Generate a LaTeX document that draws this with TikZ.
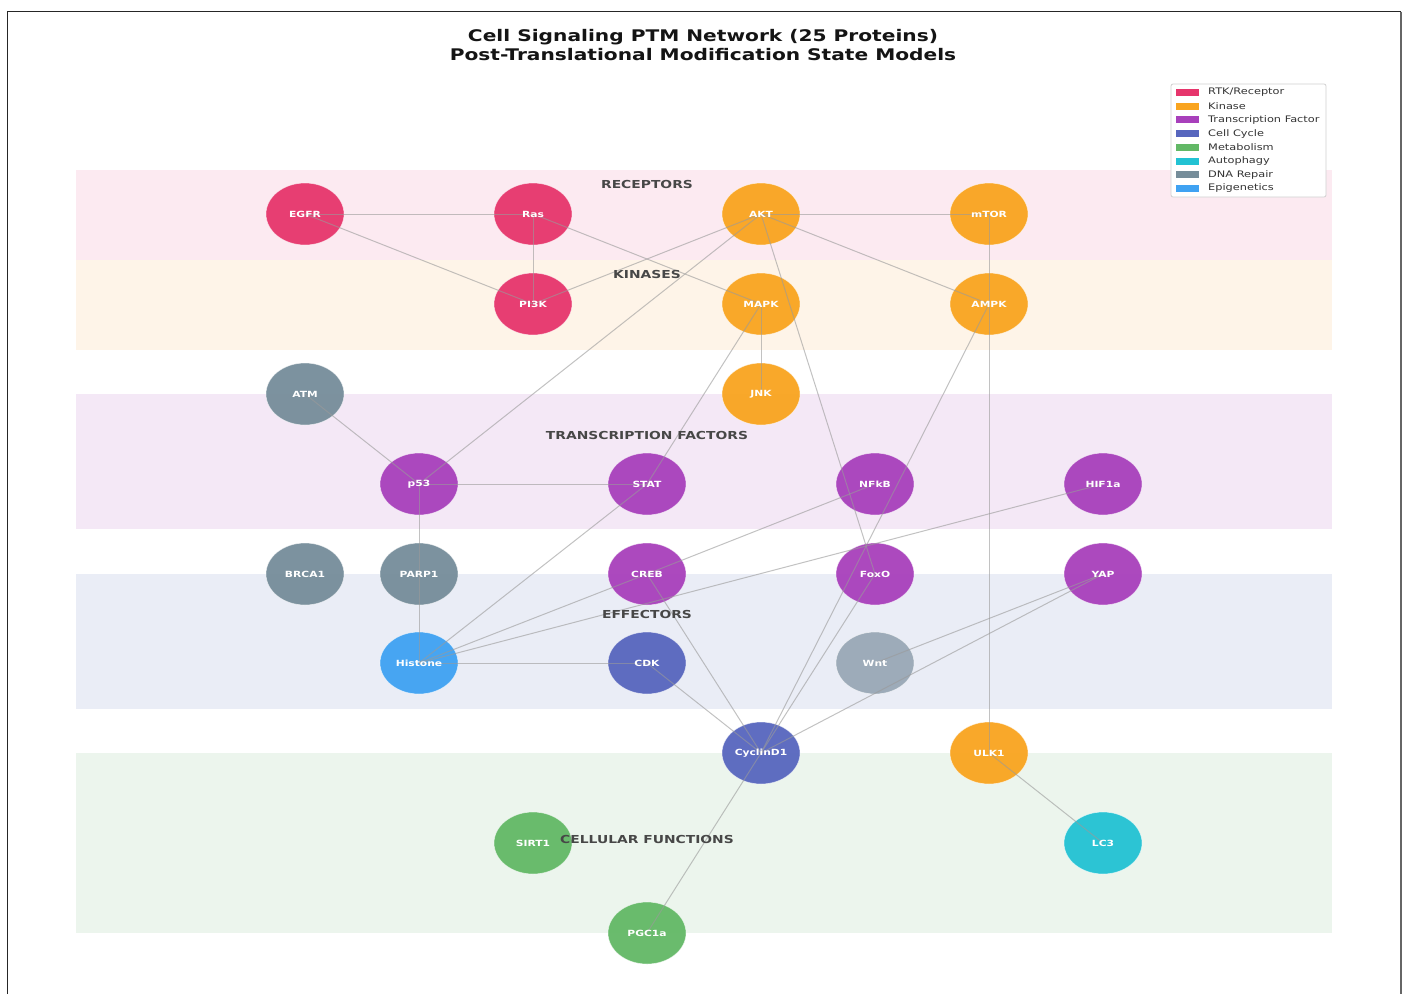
\documentclass[tikz,border=0pt]{standalone}
\usepackage{fontspec}
\setmainfont{DejaVu Sans}[FakeStretch=1.26]
\usetikzlibrary{shapes.geometric}
\definecolor{rtk}{HTML}{E6356C}
\definecolor{kin}{HTML}{F9A41F}
\definecolor{tf}{HTML}{A840BB}
\definecolor{cyc}{HTML}{5766BE}
\definecolor{met}{HTML}{62B866}
\definecolor{aut}{HTML}{22C2D3}
\definecolor{dna}{HTML}{768D9A}
\definecolor{epi}{HTML}{3FA2F2}
\definecolor{wntc}{HTML}{99A8B6}
\definecolor{bandA}{HTML}{FCEAF1}
\definecolor{bandB}{HTML}{FEF4E8}
\definecolor{bandC}{HTML}{F4E8F6}
\definecolor{bandD}{HTML}{EAEDF6}
\definecolor{bandE}{HTML}{ECF5ED}
\definecolor{edgec}{HTML}{9A9A9A}
\pgfdeclarelayer{bands}
\pgfsetlayers{bands,main}
\tikzset{
  prot/.style={ellipse, minimum width=78pt, minimum height=62pt, inner sep=0pt,
    fill=#1, fill opacity=0.95, text opacity=1, text=white, draw=white, draw opacity=0.6, line width=0.6pt,
    font=\fontsize{8.5}{10}\selectfont\bfseries},
  edge/.style={draw=edgec, draw opacity=0.6, line width=1pt},
  bandlab/.style={text=black!72, font=\fontsize{11}{13}\selectfont\bfseries, inner sep=0pt},
  legtext/.style={anchor=west, inner sep=0pt, font=\fontsize{9}{10}\selectfont, text=black!80},
}
\begin{document}
\begin{tikzpicture}[x=1pt,y=-1pt]
\useasboundingbox (0,0) rectangle (1404,994);
% bands
\begin{pgfonlayer}{bands}
\fill[white] (0,0) rectangle (1404,994);
\fill[bandA] (76,170) rectangle (1332,260);
\fill[bandB] (76,260) rectangle (1332,350);
\fill[bandC] (76,394) rectangle (1332,529);
\fill[bandD] (76,574) rectangle (1332,709);
\fill[bandE] (76,753) rectangle (1332,933);
\end{pgfonlayer}
% frame
\draw[black!85, line width=1.5pt] (7.5,994) -- (7.5,11.5) -- (1400.5,11.5);
\draw[black!60, line width=2pt] (1400.5,11.5) -- (1400.5,994);
% title
\node[font=\fontsize{16}{19}\selectfont\bfseries, text=black!92, align=center, inner sep=0pt] (title) at (703,45)
  {Cell Signaling PTM Network (25 Proteins)\\Post-Translational Modification State Models};
% nodes
\node[prot=rtk] (EGFR) at (305,214) {};
\node[prot=rtk] (Ras) at (533,214) {};
\node[prot=kin] (AKT) at (761,214) {};
\node[prot=kin] (mTOR) at (989,214) {};
\node[prot=rtk] (PI3K) at (533,304) {};
\node[prot=kin] (MAPK) at (761,304) {};
\node[prot=kin] (AMPK) at (989,304) {};
\node[prot=dna] (ATM) at (305,394) {};
\node[prot=kin] (JNK) at (761,394) {};
\node[prot=tf] (p53) at (419,484) {};
\node[prot=tf] (STAT) at (647,484) {};
\node[prot=tf] (NFkB) at (875,484) {};
\node[prot=tf] (HIF1a) at (1103,484) {};
\node[prot=dna] (BRCA1) at (305,574) {};
\node[prot=dna] (PARP1) at (419,574) {};
\node[prot=tf] (CREB) at (647,574) {};
\node[prot=tf] (FoxO) at (875,574) {};
\node[prot=tf] (YAP) at (1103,574) {};
\node[prot=epi] (Histone) at (419,663) {};
\node[prot=cyc] (CDK) at (647,663) {};
\node[prot=wntc] (Wnt) at (875,663) {};
\node[prot=cyc] (CyclinD1) at (761,753) {};
\node[prot=kin] (ULK1) at (989,753) {};
\node[prot=met] (SIRT1) at (533,843) {};
\node[prot=aut] (LC3) at (1103,843) {};
\node[prot=met] (PGC1a) at (647,933) {};
% edges
\foreach \a/\b in {EGFR/Ras, EGFR/PI3K, Ras/PI3K, Ras/MAPK, PI3K/AKT, AKT/mTOR, AKT/AMPK, AKT/p53, AKT/FoxO,
  mTOR/AMPK, AMPK/ULK1, AMPK/CyclinD1, MAPK/JNK, MAPK/STAT, ATM/p53, p53/STAT, p53/PARP1, PARP1/Histone,
  STAT/Histone, Histone/CREB, CREB/NFkB, Histone/HIF1a, Histone/CDK, CREB/CyclinD1, CDK/CyclinD1,
  FoxO/CyclinD1, YAP/Wnt, YAP/CyclinD1, ULK1/LC3, CyclinD1/PGC1a}
  \draw[edge] (\a.center) -- (\b.center);
% node labels
\foreach \n in {EGFR, Ras, AKT, mTOR, PI3K, MAPK, AMPK, ATM, JNK, p53, STAT, NFkB, HIF1a, BRCA1, PARP1,
  CREB, FoxO, YAP, Histone, CDK, Wnt, CyclinD1, ULK1, SIRT1, LC3, PGC1a}
  \node[text=white, font=\fontsize{8.5}{10}\selectfont\bfseries, inner sep=0pt] at (\n.center) {\n};
% band labels
\node[bandlab] (lR) at (647,184) {RECEPTORS};
\node[bandlab] (lK) at (647,274) {KINASES};
\node[bandlab] (lT) at (647,435) {TRANSCRIPTION FACTORS};
\node[bandlab] (lE) at (647,614) {EFFECTORS};
\node[bandlab] (lC) at (647,839) {CELLULAR FUNCTIONS};
% legend
\draw[black!18, fill=white, rounded corners=2pt, line width=0.8pt] (1171,84) rectangle (1326,197);
\foreach \c/\t [count=\i from 0] in {rtk/RTK\slash Receptor, kin/Kinase, tf/Transcription Factor, cyc/Cell Cycle,
   met/Metabolism, aut/Autophagy, dna/DNA Repair, epi/Epigenetics}{
  \fill[\c] (1176,92.5+13.7*\i-3.5) rectangle (1199,92.5+13.7*\i+3.5);
  \node[legtext] (leg\i) at (1208,92.5+13.7*\i) {\t};
}
\end{tikzpicture}
\end{document}
